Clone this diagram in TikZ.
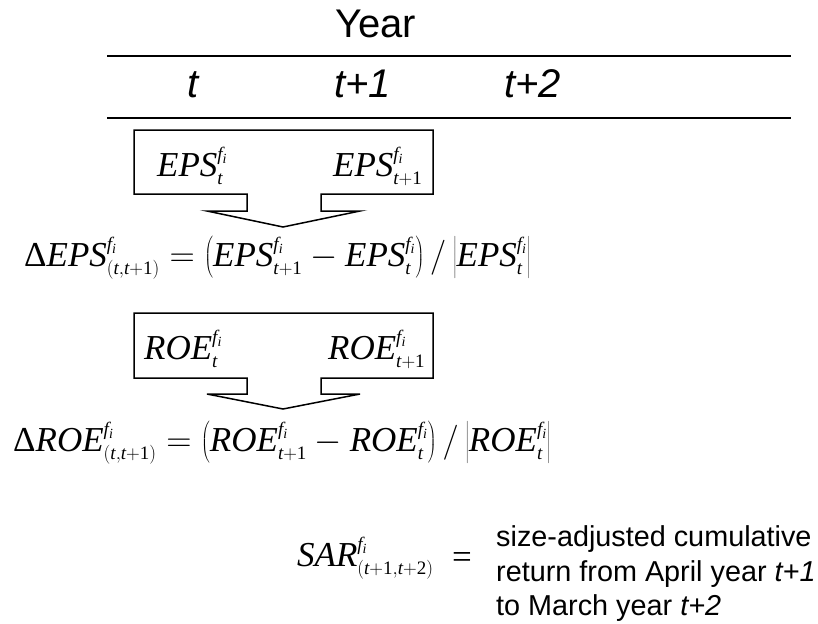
\documentclass[tikz,border=0pt]{standalone}
\usepackage{fix-cm}
\usepackage{fontspec}
\setmainfont{Liberation Serif}
\setsansfont{Liberation Sans}
\DeclareMathSizes{35}{35}{19}{14}
\newcommand{\mi}[1]{\mathit{#1}}
\newcommand{\firm}{\mi{f}_{\mi{i}}}
\newcommand{\tp}[1]{\mi{t}\mathrm{+#1}}
\newcommand{\dlt}{\mbox{Δ}}
\newcommand{\tslash}{\mathord{\left/\vrule height 30pt depth 16pt width 0pt\right.}}
\begin{document}
\begin{tikzpicture}[x=1pt,y=-1pt,
  hdr/.style={font=\sffamily\fontsize{40}{44}\selectfont, inner sep=0pt, anchor=base west},
  mth/.style={font=\fontsize{35}{40}\selectfont, inner sep=0pt, anchor=base west},
  desc/.style={font=\sffamily\fontsize{28.8}{32}\selectfont, inner sep=0pt, anchor=base west},
  rule/.style={line width=1.8pt},
  boxline/.style={line width=1.5pt, line join=miter}]
\useasboundingbox (0,0) rectangle (818,623);
% header
\node[hdr] (year) at (335,38) {Year};
\draw[rule] (107,56) -- (791,56);
\node[hdr] (yt) at (187,98) {\itshape t};
\node[hdr] (yt1) at (334,98) {\itshape t+1};
\node[hdr] (yt2) at (504,98) {\itshape t+2};
\draw[rule] (107,118) -- (791,118);
% EPS box
\draw[boxline] (134,130) -- (433,130) -- (433,194) -- (321,194) -- (321,211) -- (360,211)
  -- (283,227) -- (207,211) -- (247,211) -- (247,194) -- (134,194) -- cycle;
\node[mth] (epst) at (157,176) {$\mi{EPS}^{\firm}_{\mi{t}}$};
\node[mth] (epst1) at (333,176) {$\mi{EPS}^{\firm}_{\tp{1}}$};
\node[mth] (deps) at (24,266) {$\dlt\mi{EPS}^{\firm}_{\mathrm{(}\mi{t}\mathrm{,}\tp{1}\mathrm{)}}=\left(\mi{EPS}^{\firm}_{\tp{1}}-\mi{EPS}^{\firm}_{\mi{t}}\right)\tslash\left|\mi{EPS}^{\firm}_{\mi{t}}\right|$};
% ROE box
\draw[boxline] (134,313) -- (433,313) -- (433,378) -- (321,378) -- (321,394) -- (360,394)
  -- (283,409) -- (207,394) -- (247,394) -- (247,378) -- (134,378) -- cycle;
\node[mth] (roet) at (144,359) {$\mi{ROE}^{\firm}_{\mi{t}}$};
\node[mth] (roet1) at (328,359) {$\mi{ROE}^{\firm}_{\tp{1}}$};
\node[mth] (droe) at (13,451) {$\dlt\mi{ROE}^{\firm}_{\mathrm{(}\mi{t}\mathrm{,}\tp{1}\mathrm{)}}=\left(\mi{ROE}^{\firm}_{\tp{1}}-\mi{ROE}^{\firm}_{\mi{t}}\right)\tslash\left|\mi{ROE}^{\firm}_{\mi{t}}\right|$};
% SAR
\node[mth] (sar) at (297,566) {$\mi{SAR}^{\firm}_{\mathrm{(}\tp{1}\mathrm{,}\tp{2}\mathrm{)}}$};
\node[font=\fontsize{35}{40}\selectfont, inner sep=0pt] (eq) at (462,560) {=};
\node[desc] (l1) at (496,546) {size-adjusted cumulative};
\node[desc] (l2) at (496,581) {return from April year \textit{t+1}};
\node[desc] (l3) at (496,615) {to March year \textit{t+2}};
\end{tikzpicture}
\end{document}
